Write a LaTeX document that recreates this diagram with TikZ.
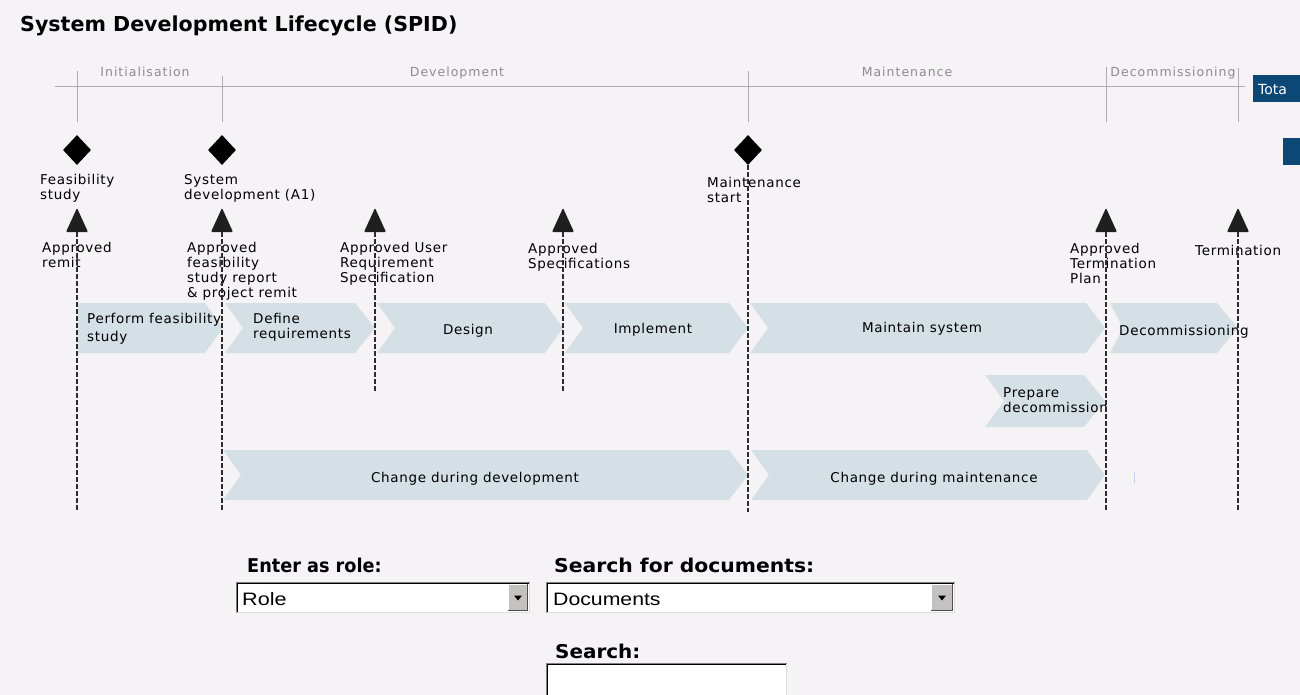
\documentclass[tikz,border=0pt]{standalone}
\usepackage{fontspec}
\usepackage{graphicx}
\setmainfont{DejaVu Sans}
\newfontfamily\lblfont[LetterSpace=5]{DejaVu Sans}
\newfontfamily\phasefont[LetterSpace=8]{DejaVu Sans}
\newfontfamily\formfont{Liberation Sans}
\usetikzlibrary{shapes.geometric}

\definecolor{pagebg}{RGB}{245,243,246}
\definecolor{chevfill}{RGB}{213,223,230}
\definecolor{phasegray}{RGB}{140,140,140}
\definecolor{ruleline}{RGB}{172,172,172}
\definecolor{navy}{RGB}{12,72,118}
\definecolor{dashgray}{RGB}{45,45,45}
\definecolor{btngray}{RGB}{196,194,192}
\definecolor{edgedark}{RGB}{128,128,128}
\definecolor{edgelight}{RGB}{225,222,218}
\definecolor{speck}{RGB}{196,212,232}

% left-aligned lines whose baseline is that of the first line
\newcommand{\stack}[1]{\begin{tabular}[t]{@{}l@{}}#1\end{tabular}}

% chevron: left x, notch depth, shoulder x, tip x, top y, bottom y
\newcommand{\chevshape}[6]{%
  \fill[chevfill] (#1,#5) -- (#3,#5) -- (#4,{(#5+#6)/2}) -- (#3,#6) -- (#1,#6)
    -- ({#1+#2},{(#5+#6)/2}) -- cycle;}

% sunken form field: x1, y1, x2, y2
\newcommand{\sunkenfield}[4]{%
  \fill[white] (#1,#2) rectangle (#3,#4);
  \draw[edgedark, line width=1pt] (#1+0.5,#4) -- (#1+0.5,#2+0.5) -- (#3,#2+0.5);
  \draw[black, line width=1pt] (#1+1.5,#4-1) -- (#1+1.5,#2+1.5) -- (#3-1,#2+1.5);
  \draw[edgelight, line width=1pt] (#1+0.5,#4-0.5) -- (#3-0.5,#4-0.5) -- (#3-0.5,#2+0.5);}

% drop-down button: x1, y1, x2, y2
\newcommand{\dropbutton}[4]{%
  \fill[btngray] (#1,#2) rectangle (#3,#4);
  \draw[white, line width=1pt] (#1+0.5,#4) -- (#1+0.5,#2+0.5) -- (#3,#2+0.5);
  \draw[black!70, line width=1pt] (#1,#4-0.5) -- (#3-0.5,#4-0.5) -- (#3-0.5,#2);
  \fill[black] ({(#1+#3)/2-4},{(#2+#4)/2-2}) -- ++(8,0) -- ++(-4,5) -- cycle;}

\begin{document}
\begin{tikzpicture}[x=1pt,y=-1pt,
  milestone/.style={diamond, fill=black, minimum width=28pt, minimum height=30pt, inner sep=0pt},
  guide/.style={draw=dashgray, line width=1.1pt, dash pattern=on 4.5pt off 2.5pt},
  tickline/.style={draw=ruleline, line width=1pt},
  lbl/.style={anchor=base west, inner sep=0pt,
    font=\lblfont\fontsize{13.5}{15}\selectfont},
  phase/.style={anchor=base, inner sep=0pt, text=phasegray,
    font=\phasefont\fontsize{12.5}{14}\selectfont},
  chevlbl/.style={anchor=base, inner sep=0pt, font=\lblfont\fontsize{13.5}{15}\selectfont},
  formlbl/.style={anchor=base west, inner sep=0pt, font=\bfseries\fontsize{19}{21}\selectfont},
  fieldtxt/.style={anchor=base west, inner sep=0pt, font=\formfont\fontsize{18}{20}\selectfont}]

\useasboundingbox (0,0) rectangle (1300,695);
\fill[pagebg] (0,0) rectangle (1300,695);

% title
\node[anchor=base west, inner sep=0pt, font=\bfseries\fontsize{20.6}{24}\selectfont]
  (title) at (20,32) {System Development Lifecycle (SPID)};

% phase scale
\draw[tickline] (55,87) -- (1245,87);
\draw[tickline] (77,71) -- (77,122);
\draw[tickline] (222,76) -- (222,122);
\draw[tickline] (748,71) -- (748,122);
\draw[tickline] (1106,67) -- (1106,122);
\draw[tickline] (1238,68) -- (1238,122);
\node[phase] (ph1) at (145,77) {Initialisation};
\node[phase] (ph2) at (457,77) {Development};
\node[phase] (ph3) at (907,77) {Maintenance};
\node[phase] (ph4) at (1173,77) {Decommissioning};

% side tabs
\fill[navy] (1253,75) rectangle (1300,102);
\node[anchor=base west, inner sep=0pt, text=white, font=\fontsize{14}{16}\selectfont]
  (tab) at (1258,95) {Tota};
\fill[navy] (1283,138) rectangle (1300,165);

% decision points
\node[milestone] (d1) at (77,150) {};
\node[milestone] (d2) at (222,150) {};
\node[milestone] (d3) at (748,150) {};
\node[lbl] (d1l) at (40,185) {\stack{Feasibility\\study}};
\node[lbl] (d2l) at (184,185) {\stack{System\\development (A1)}};
\node[lbl] (d3l) at (707,188) {\stack{Maintenance\\start}};

% approval gates (base centre)
\coordinate (g1) at (77,232);
\coordinate (g2) at (222,232);
\coordinate (g3) at (375,232);
\coordinate (g4) at (563,232);
\coordinate (g5) at (1106,232);
\coordinate (g6) at (1238,232);
\foreach \g in {g1,g2,g3,g4,g5,g6}
  \fill[black!88, rounded corners=1pt] (\g) ++(-11,0) -- ++(22,0) -- ++(-11,-24) -- cycle;

\node[lbl] (g1l) at (42,252) {\stack{Approved\\remit}};
\node[lbl] (g2l) at (187,252) {\stack{Approved\\feasibility\\study report\\\& project remit}};
\node[lbl] (g3l) at (340,252) {\stack{Approved User\\Requirement\\Specification}};
\node[lbl] (g4l) at (528,253) {\stack{Approved\\Specifications}};
\node[lbl] (g5l) at (1070,253) {\stack{Approved\\Termination\\Plan}};
\node[lbl] (g6l) at (1195,255) {Termination};

% activities
\chevshape{78}{0}{205}{223}{303}{353}
\chevshape{225}{18}{355}{375}{303}{353}
\chevshape{377}{18}{545}{563}{303}{353}
\chevshape{565}{18}{729}{748}{303}{353}
\chevshape{750}{18}{1086}{1105}{303}{353}
\chevshape{1110}{13}{1217}{1238}{303}{353}
\chevshape{985}{19}{1084}{1105}{375}{427}
\chevshape{223}{18}{729}{748}{450}{500}
\chevshape{751}{18}{1087}{1105}{450}{500}
\draw[speck, line width=1pt] (1134,472) -- (1134,483);

\node[lbl, font=\lblfont\fontsize{13.5}{18}\selectfont] (a1) at (87,323) {\stack{Perform feasibility\\study}};
\node[lbl] (a2) at (253,323) {\stack{Define\\requirements}};
\node[chevlbl] (a3) at (468,334) {Design};
\node[chevlbl] (a4) at (653,333) {Implement};
\node[chevlbl] (a5) at (922,332) {Maintain system};
\node[lbl] (a6) at (1119,335) {Decommissioning};
\node[lbl] (a7) at (1003,397) {\stack{Prepare\\decommission}};
\node[chevlbl] (a8) at (475,482) {Change during development};
\node[chevlbl] (a9) at (934,482) {Change during maintenance};

% gate guide lines
\coordinate (e1) at (77,512);
\coordinate (e2) at (222,512);
\coordinate (e3) at (375,392);
\coordinate (e4) at (563,392);
\coordinate (e5) at (748,512);
\coordinate (e6) at (1106,512);
\coordinate (e7) at (1238,512);
\draw[guide] (g1) -- (e1);
\draw[guide] (g2) -- (e2);
\draw[guide] (g3) -- (e3);
\draw[guide] (g4) -- (e4);
\draw[guide] (d3.south) -- (e5);
\draw[guide] (g5) -- (e6);
\draw[guide] (g6) -- (e7);

% search form
\node[formlbl] (rolelbl) at (247,572) {\scalebox{0.93}[1]{Enter as role:}};
\node[formlbl] (doclbl) at (554,572) {\scalebox{1.07}[1]{Search for documents:}};
\node[formlbl] (searchlbl) at (555,658) {\scalebox{1.05}[1]{Search:}};

\sunkenfield{236}{582}{530}{613}
\dropbutton{508}{584}{528}{611}
\node[fieldtxt] (role) at (242,605) {\scalebox{1.2}[1]{Role}};

\sunkenfield{546}{582}{955}{613}
\dropbutton{931}{584}{953}{611}
\node[fieldtxt] (docs) at (553,605) {\scalebox{1.18}[1]{Documents}};

\sunkenfield{546}{663}{787}{700}
\end{tikzpicture}
\end{document}
